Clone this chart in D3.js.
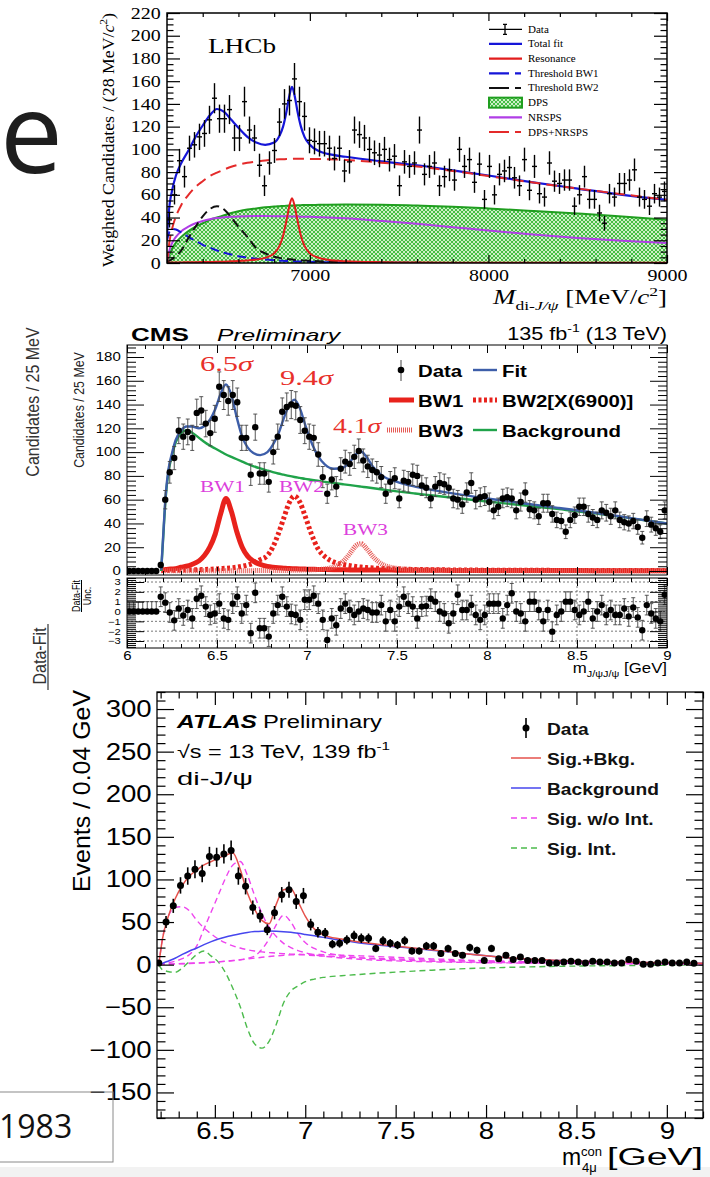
<!DOCTYPE html>
<html>
<head>
<meta charset="utf-8">
<script src="https://cdn.jsdelivr.net/npm/d3@7"></script>
<style>
  html, body { margin: 0; padding: 0; background: #fff; }
  svg { display: block; }
</style>
</head>
<body>
<div id="chart"></div>
<script>
// ---------------- LHCb (28 MeV bins from 6200 MeV) ----------------
var lhcbCounts = [38, 60, 90, 76, 101, 104, 111, 114, 126, 145, 127, 127, 135, 110, 110, 142, 117, 110, 86, 68,
  88, 99, 124, 140, 143, 162, 142, 129, 108, 107, 105, 105, 101, 92, 101, 81, 89, 117, 113, 110,
  100, 97, 95, 100, 91, 94, 68, 89, 85, 88, 117, 78, 85, 88, 68, 76, 82, 73, 100, 85,
  91, 71, 87, 56, 85, 60, 78, 81, 84, 75, 68, 91, 64, 85, 61, 58, 88, 72, 70, 73,
  73, 50, 60, 76, 56, 56, 44, 35, 61, 58, 70, 70, 73, 82, 58, 56, 50, 61, 58, 63];
var lhcbGrid = [6200, 6215, 6230, 6250, 6280, 6320, 6360, 6400, 6440, 6480, 6520, 6560, 6600, 6650, 6700, 6750, 6800, 6830, 6850, 6870,
  6885, 6900, 6915, 6930, 6950, 6970, 7000, 7050, 7100, 7200, 7400, 7600, 7800, 8000, 8250, 8500, 8750, 9000];
var lhcbTotalFit = [25, 52, 65, 77, 88, 99, 111, 121, 130, 135.5, 133, 126, 119, 111, 106, 104, 106, 112, 120, 134,
  147, 155, 147, 134, 120, 111, 104, 98.5, 96, 93.5, 89.5, 86, 81.5, 77, 71, 65.5, 60, 55.5];
var lhcbResonance = [0.3, 0.3, 0.4, 0.4, 0.5, 0.6, 0.7, 0.8, 0.9, 1.0, 1.2, 1.5, 1.8, 2.3, 3.0, 4.5, 8.5, 15, 24, 38,
  50, 57, 50, 38, 24, 15, 8.5, 4.5, 2.8, 1.5, 0.7, 0.4, 0.3, 0.3, 0.2, 0.2, 0.2, 0.2];
var lhcbThresholdBW1 = [20, 28, 30, 29.5, 27, 23, 19.5, 16, 13.5, 11, 9, 7.5, 6, 4.8, 3.8, 3, 2.4, 2.1, 1.9, 1.8,
  1.7, 1.6, 1.5, 1.4, 1.3, 1.2, 1.0, 0.8, 0.6, 0.4, 0.2, 0.1, 0, 0, 0, 0, 0, 0];
var lhcbThresholdBW2 = [1, 2, 3.5, 6, 11, 22, 32, 41, 47.5, 50, 47, 40, 32, 23, 13, 8.5, 5.5, 4.5, 4, 3.6,
  3.3, 3.0, 2.8, 2.6, 2.4, 2.2, 1.9, 1.5, 1.2, 0.8, 0.4, 0.2, 0, 0, 0, 0, 0, 0];
var lhcbDPS = [0, 8, 13, 18, 23, 28, 32, 35, 38, 40, 42, 44, 45.5, 47, 48, 49, 49.7, 50, 50.2, 50.4,
  50.5, 50.6, 50.7, 50.8, 50.9, 51, 51, 51.2, 51.3, 51.4, 51.3, 50.5, 49.5, 48, 45.8, 43.5, 41, 38];
var lhcbNRSPS = [0, 12, 18, 23, 28, 32, 35, 37, 38.5, 39.5, 40.2, 40.7, 41, 41.2, 41.3, 41.3, 41.2, 41.2, 41.1, 41.1,
  41, 41, 41, 40.9, 40.8, 40.7, 40.6, 40.3, 40, 39.3, 37, 34.5, 31.5, 28.5, 25, 22, 19.5, 17.5];
var lhcbDPSNRSPS = [0, 20, 31, 41, 51, 60, 67, 72, 76.5, 79.5, 82.2, 84.7, 86.5, 88.2, 89.3, 90.3, 90.9, 91.2, 91.3, 91.5,
  91.5, 91.6, 91.7, 91.7, 91.7, 91.7, 91.6, 91.5, 91.3, 90.7, 88.3, 85, 81, 76.5, 70.8, 65.5, 60.5, 55.5];
var lhcbXTicks = [7000, 8000, 9000];
var lhcbLegend = ['Data', 'Total fit', 'Resonance', 'Threshold BW1', 'Threshold BW2', 'DPS', 'NRSPS', 'DPS+NRSPS'];

// ---------------- CMS (25 MeV bins from 6.0 GeV) ----------------
var cmsCounts = [0, 0, 0, 0, 0, 0, 0, 5, 60, 83, 95, 118, 113, 117, 112, 133, 135, 124, 116, 128,
  155, 148, 143, 148, 142, 112, 112, 81, 121, 82, 82, 75, 100, 113, 134, 138, 140, 139, 127, 118,
  113, 112, 98, 79, 65, 77, 71, 86, 92, 90, 96, 101, 93, 88, 85, 83, 79, 65, 75, 78,
  61, 76, 75, 81, 80, 72, 70, 61, 71, 74, 73, 70, 61, 60, 56, 66, 74, 60, 62, 63,
  58, 51, 54, 61, 62, 61, 51, 58, 66, 52, 51, 46, 57, 57, 48, 43, 42, 33, 43, 47,
  54, 54, 48, 45, 43, 51, 49, 46, 51, 43, 41, 40, 42, 37, 28, 44, 39, 36, 33, 51];
var cmsPulls = [0, 0, 0, 0, 0, 0, 0, 1.5, 0.9, -0.1, -0.9, 0.3, -0.4, 0.15, -0.7, 1.3, 1.6, 0.5, -0.35, -0.2,
  0.8, -0.7, -0.85, 0.8, 1.5, -0.2, 0.65, -2.2, 1.9, -1.7, -1.7, -2.55, -0.2, 0.65, 1.5, 0.5, -0.25, -0.35, -0.85, 1.2,
  1.2, 1.6, 0.8, -0.85, -2.9, -0.7, -1.4, 0.3, 0.8, 0.15, -0.35, 0, 0.3, 0.15, -0.1, -0.1, 0.65, -1, 0.15, -1,
  0.5, 1.5, 0.8, 0.5, -0.7, 0.5, 0.55, 1.3, 1.0, 0, -0.2, -1.2, -0.2, 1.7, 0.15, 0.15, 0.65, -0.35, -0.85, -0.35,
  0.8, 0.8, 0.8, -0.7, 0.65, 1.85, 0, -0.2, -1.0, 1.0, 1.0, 0.15, -1.0, 0.15, -2.05, -0.35, 0, 1.0, 1.0, 0.15,
  -0.35, 0, 1.0, -0.7, 0, 0.65, -0.35, 0.15, -0.35, -0.35, 0.3, -0.5, 0.4, -0.6, -1.9, 0.65, -0.2, -0.7, -1.0, 1.7];
var cmsGrid = [6.0, 6.18, 6.19, 6.2, 6.215, 6.23, 6.25, 6.27, 6.3, 6.33, 6.36, 6.4, 6.43, 6.46, 6.49, 6.52, 6.55, 6.58, 6.61, 6.64,
  6.67, 6.7, 6.74, 6.78, 6.81, 6.84, 6.87, 6.9, 6.93, 6.96, 6.99, 7.02, 7.06, 7.1, 7.15, 7.2, 7.24, 7.27, 7.3, 7.33,
  7.37, 7.42, 7.5, 7.6, 7.7, 7.8, 8.0, 8.2, 8.4, 8.6, 8.8, 9.0];
var cmsFit = [0, 0, 1, 27, 64, 85, 99, 110, 118, 121.5, 121.5, 120, 122, 127, 136, 149, 157, 148, 129, 113,
  104, 99.5, 97.5, 100, 106, 115, 128, 139, 144, 137, 123, 110, 97, 89.5, 86, 87, 92, 98, 100.5, 96,
  87, 80, 75, 71, 68, 65.5, 61, 57, 53, 49, 44.5, 40];
var cmsBackground = [0, 0, 0, 25, 62, 83, 97, 108, 116, 118.5, 116.5, 112, 108.5, 105.5, 103, 100.5, 98, 96, 94, 92,
  90, 88.3, 86.3, 84.5, 83.2, 82, 81, 80, 79.1, 78.3, 77.5, 76.8, 75.9, 75, 74, 73, 72.2, 71.6, 71, 70.4,
  69.6, 68.6, 67, 65.2, 63.5, 61.8, 58.5, 55.3, 52, 48.5, 44.3, 40];
var cmsBW1 = [null, null, 0.8, 1, 1.2, 1.4, 1.7, 2, 3.1, 4, 5.5, 8.5, 13, 20, 31, 48, 61, 50, 33, 20,
  12.5, 8.5, 5.5, 3.9, 3.2, 2.7, 2.4, 2.1, 1.9, 1.7, 1.6, 1.5, 1.3, 1.2, 1.1, 1.0, 0.9, 0.9, 0.9, 0.8,
  0.8, 0.8, 0.7, 0.6, 0.6, 0.5, 0.5, 0.4, 0.4, 0.3, 0.3, 0.3];
var cmsBW2 = [null, null, 0.4, 0.5, 0.5, 0.6, 0.6, 0.7, 0.8, 0.9, 1.0, 1.1, 1.3, 1.5, 1.7, 2.0, 2.3, 2.7, 3.2, 4.0,
  5.0, 6.5, 9.5, 13, 20, 31, 44, 57, 63, 58, 46, 33, 19, 12, 7.5, 5.5, 4.5, 3.8, 3.3, 2.9,
  2.5, 2.1, 1.7, 1.3, 1.1, 0.9, 0.7, 0.6, 0.5, 0.4, 0.4, 0.3];
var cmsBW3 = [null, null, 0.2, 0.2, 0.2, 0.2, 0.2, 0.2, 0.2, 0.2, 0.2, 0.2, 0.2, 0.2, 0.3, 0.3, 0.3, 0.3, 0.3, 0.3,
  0.3, 0.3, 0.4, 0.4, 0.4, 0.5, 0.5, 0.5, 0.6, 0.7, 0.8, 0.9, 1.2, 1.8, 3.5, 8, 15, 21, 23, 19,
  11.5, 5.5, 2.2, 1.1, 0.7, 0.5, 0.3, 0.3, 0.2, 0.2, 0.2, 0.2];
var cmsXTicks = [6, 6.5, 7, 7.5, 8, 8.5, 9];

// ---------------- ATLAS (0.04 GeV bins) ----------------
var atlasCounts = [2, 50, 69, 93, 104, 112, 107, 127, 126, 130, 134, 104, 92, 67, 57, 41, 61, 82, 88, 74,
  81, 47, 38, 37, 24, 25, 29, 34, 31, 31, 19, 28, 25, 23, 28, 16, 16, 22, 22, 13,
  19, 13, 11, 20, 17, 5, 19, 7, 11, 6, 9, 5, 5, 5, 2, 2, 3, 4, 3, 2,
  4, 3, 3, 2, 2, 6, 4, 0.5, 0.5, 2, 3, 2, 2, 3, 1.5];
var atlasGrid = [6.19, 6.21, 6.24, 6.28, 6.32, 6.36, 6.4, 6.44, 6.48, 6.52, 6.56, 6.6, 6.64, 6.68, 6.72, 6.76, 6.8, 6.84, 6.88, 6.92,
  6.96, 7.0, 7.05, 7.1, 7.2, 7.3, 7.4, 7.5, 7.6, 7.7, 7.8, 7.9, 8.0, 8.1, 8.2, 8.4, 8.6, 8.8, 9.0, 9.2];
var atlasSigBkg = [0, 30, 55, 77, 93, 104, 111, 117, 121, 125, 128.5, 131, 112, 84, 65, 52, 48, 71, 88, 89,
  74, 57, 42, 35, 30, 26.5, 24, 21.8, 19.6, 17.4, 15, 12.6, 10.4, 8.4, 6.8, 4.9, 3.7, 2.8, 2.1, 1.6];
var atlasBkg = [0, 1.5, 4, 7.5, 12, 16, 19.5, 23.5, 27, 30, 32.5, 34.5, 36.3, 37.8, 38.8, 39.3, 39.4, 39.2, 38.7, 37.9,
  36.8, 35.5, 33.8, 32, 28.5, 25.5, 23, 21, 19, 17, 14.8, 12.5, 10.3, 8.3, 6.7, 4.8, 3.6, 2.7, 2, 1.5];
var atlasSigA = [0, 30, 55, 67, 68, 63, 52, 43, 36, 30, 25.5, 22, 19.5, 17.5, 16, 15, 14.2, 13.5, 12.9, 12.4,
  12, 11.4, 10.7, 10.1, 9, 8.1, 7.3, 6.6, 6, 5.4, 4.9, 4.4, 4, 3.6, 3.3, 2.7, 2.2, 1.8, 1.5, 1.2];
var atlasSigB = [0, 1, 2, 4, 7, 12, 22, 42, 62, 82, 102, 117, 121, 105, 81, 60, 44, 33, 25, 20,
  16.5, 14, 11.5, 10, 7.8, 6.3, 5.2, 4.4, 3.8, 3.3, 2.9, 2.6, 2.3, 2.1, 1.9, 1.6, 1.3, 1.1, 1.0, 0.9];
var atlasSigC = [0, 0.5, 0.8, 1, 1.3, 1.6, 2, 2.4, 2.9, 3.4, 4, 4.8, 5.8, 7.5, 10, 18, 30, 47, 58, 50,
  36, 26, 19, 15, 10.5, 8, 6.5, 5.5, 4.7, 4, 3.5, 3.1, 2.7, 2.4, 2.2, 1.8, 1.5, 1.3, 1.1, 1];
var atlasSigD = [0, 0.3, 0.5, 0.7, 1, 1.3, 1.7, 2.1, 2.6, 3.2, 3.9, 4.7, 5.6, 6.6, 7.6, 8.6, 9.5, 10.3, 11, 11.5,
  11.8, 12, 12, 11.8, 11.2, 10.4, 9.5, 8.6, 7.7, 6.8, 6, 5.2, 4.5, 3.9, 3.4, 2.6, 2, 1.5, 1.2, 1];
var atlasSigInt = [0, -6, -8, -9, -4, 4, 12, 16, 10, 3, -10, -28, -49, -75, -93, -98, -90, -70, -45, -31,
  -25, -20, -17, -15, -13, -11.5, -10, -8.8, -7.6, -6.5, -5.5, -4.6, -3.9, -3.3, -2.8, -2, -1.4, -1, -0.7, -0.5];
var atlasXTicks = [6.5, 7, 7.5, 8, 8.5, 9];
var atlasLegend = ['Data', 'Sig.+Bkg.', 'Background', 'Sig. w/o Int.', 'Sig. Int.'];

var SANS = "'Liberation Sans', Arial, Helvetica, sans-serif";
var SERIF = "'Liberation Serif', 'Times New Roman', serif";
var SLIDE = "'Open Sans', 'Noto Sans', sans-serif";

var W = 710, H = 1177;
var svg = d3.select('#chart').append('svg').attr('width', W).attr('height', H);
var defs = svg.append('defs');
svg.append('rect').attr('width', W).attr('height', H).attr('fill', '#fff');

// ---------- helpers ----------
function label(parent, x, y, size, o) {
  o = o || {};
  var tr = 'translate(' + x + ',' + y + ')';
  if (o.rot) tr += ' rotate(' + o.rot + ')';
  if (o.sx) tr += o.rot ? ' scale(1,' + o.sx + ')' : ' scale(' + o.sx + ',1)';
  var t = parent.append('text').attr('transform', tr)
    .attr('font-size', size).attr('font-family', o.family || SANS)
    .attr('font-weight', o.weight || 'normal').attr('font-style', o.style || 'normal')
    .attr('text-anchor', o.anchor || 'start').attr('fill', o.fill || '#000');
  if (o.len) t.attr('textLength', o.len).attr('lengthAdjust', 'spacingAndGlyphs');
  if (o.text) t.text(o.text);
  if (o.segs) rich(t, o.segs, size);
  return t;
}
function rich(t, segs, size) {
  var off = 0;
  segs.forEach(function (s) {
    var target = s.sup ? -0.42 * size : s.sub ? 0.3 * size : 0;
    var ts = t.append('tspan').attr('dy', target - off).text(s.t);
    if (s.sup || s.sub) ts.attr('font-size', size * 0.65);
    if (s.it) ts.attr('font-style', 'italic');
    off = target;
  });
}
function stepTicks(lo, hi, step) {
  var n = Math.round((hi - lo) / step);
  return d3.range(n + 1).map(function (i) { return +(lo + i * step).toFixed(6); });
}
function minorOnly(lo, hi, step, major) {
  return stepTicks(lo, hi, step).filter(function (v) {
    var r = v / major;
    return Math.abs(r - Math.round(r)) > 1e-6;
  });
}
function rootFrame(g, xs, ys, box, o) {
  function ax(gen, tr, vals, len, fmt, pad) {
    var a = g.append('g').attr('transform', tr)
      .call(gen.tickValues(vals).tickSize(-len).tickPadding(pad || 0)
        .tickFormat(fmt || function () { return ''; }));
    a.select('.domain').remove();
    a.selectAll('line').attr('stroke', '#000').attr('stroke-width', o.tickW || 1);
    a.selectAll('text').attr('font-family', o.family).attr('font-size', o.size)
      .attr('fill', '#000').attr('transform', 'scale(' + (o.sx || 1) + ',1)');
    return a;
  }
  var B = 'translate(0,' + box.b + ')', T = 'translate(0,' + box.t + ')';
  var L = 'translate(' + box.l + ',0)', R = 'translate(' + box.r + ',0)';
  ax(d3.axisBottom(xs), B, o.xMin, o.xMinLen);
  ax(d3.axisBottom(xs), B, o.xMaj, o.xMajLen, o.xFmt, o.xPad);
  ax(d3.axisTop(xs), T, o.xMin, o.xMinLen);
  ax(d3.axisTop(xs), T, o.xMaj, o.xMajLen);
  ax(d3.axisLeft(ys), L, o.yMin, o.yMinLen);
  var yl = ax(d3.axisLeft(ys), L, o.yMaj, o.yMajLen, o.yFmt, o.yPad);
  if (o.ySize) yl.selectAll('text').attr('font-size', o.ySize);
  ax(d3.axisRight(ys), R, o.yMin, o.yMinLen);
  ax(d3.axisRight(ys), R, o.yMaj, o.yMajLen);
  g.append('rect').attr('x', box.l).attr('y', box.t)
    .attr('width', box.r - box.l).attr('height', box.b - box.t)
    .attr('fill', 'none').attr('stroke', '#000').attr('stroke-width', o.frameW || 1);
}
function clip(id, box) {
  defs.append('clipPath').attr('id', id).append('rect')
    .attr('x', box.l).attr('y', box.t).attr('width', box.r - box.l).attr('height', box.b - box.t);
  return 'url(#' + id + ')';
}
function curvePath(xs, ys, xv, yv) {
  return d3.line()
    .defined(function (d) { return d[1] != null; })
    .x(function (d) { return xs(d[0]); })
    .y(function (d) { return ys(d[1]); })
    .curve(d3.curveMonotoneX)(d3.zip(xv, yv));
}
function drawCurve(g, xs, ys, xv, yv, color, width, dash) {
  var p = g.append('path').attr('d', curvePath(xs, ys, xv, yv))
    .attr('fill', 'none').attr('stroke', color).attr('stroke-width', width);
  if (dash) p.attr('stroke-dasharray', dash);
  return p;
}
var fmtG = d3.format('~g');

// ---------- slide decorations ----------
label(svg, 0, 173, 112, { family: SLIDE, fill: '#1e1e1e', text: 'e' });
svg.append('rect').attr('x', 0).attr('y', 1167).attr('width', W).attr('height', 10).attr('fill', '#f2f2f2');

// =================== LHCb ===================
var lBox = { l: 167, r: 667, t: 13, b: 263 };
var lx = d3.scaleLinear().domain([6200, 9000]).range([lBox.l, lBox.r]);
var ly = d3.scaleLinear().domain([0, 220]).range([lBox.b, lBox.t]);
var gL = svg.append('g');
var gLc = gL.append('g').attr('clip-path', clip('clipL', lBox));

var pat = defs.append('pattern').attr('id', 'dpsHatch').attr('patternUnits', 'userSpaceOnUse')
  .attr('width', 4).attr('height', 4);
pat.append('rect').attr('width', 4).attr('height', 4).attr('fill', '#45bd45');
pat.append('path').attr('d', 'M0,0L4,4M4,0L0,4').attr('stroke', '#dcf6d6').attr('stroke-width', 0.9);

gLc.append('path')
  .attr('d', d3.area().x(function (d) { return lx(d[0]); }).y0(ly(0))
    .y1(function (d) { return ly(d[1]); }).curve(d3.curveMonotoneX)(d3.zip(lhcbGrid, lhcbDPS)))
  .attr('fill', 'url(#dpsHatch)');
drawCurve(gLc, lx, ly, lhcbGrid, lhcbDPS, '#1f9e1f', 2);
drawCurve(gLc, lx, ly, lhcbGrid, lhcbNRSPS, '#b03ee6', 2);
drawCurve(gLc, lx, ly, lhcbGrid, lhcbThresholdBW1, '#1515d8', 2, '9,5');
drawCurve(gLc, lx, ly, lhcbGrid, lhcbThresholdBW2, '#111', 2, '9,5');
drawCurve(gLc, lx, ly, lhcbGrid, lhcbResonance, '#e21d1d', 2);
drawCurve(gLc, lx, ly, lhcbGrid, lhcbTotalFit, '#1515d8', 2.2);
drawCurve(gLc, lx, ly, lhcbGrid, lhcbDPSNRSPS, '#e42a2a', 2, '11,6');

var lhcbBins = lhcbCounts.map(function (v, i) { return { m: 6200 + 28 * (i + 0.5), v: v }; });
var lPts = gLc.selectAll('g.pt').data(lhcbBins).enter().append('g').attr('class', 'pt')
  .attr('stroke', '#000').attr('stroke-width', 1.4);
lPts.append('line')
  .attr('x1', function (d) { return lx(d.m); }).attr('x2', function (d) { return lx(d.m); })
  .attr('y1', function (d) { return ly(d.v - Math.sqrt(d.v) * 1.1); })
  .attr('y2', function (d) { return ly(d.v + Math.sqrt(d.v) * 1.1); });
lPts.append('line')
  .attr('x1', function (d) { return lx(d.m - 14); }).attr('x2', function (d) { return lx(d.m + 14); })
  .attr('y1', function (d) { return ly(d.v); }).attr('y2', function (d) { return ly(d.v); });

rootFrame(gL, lx, ly, lBox, {
  family: SERIF, size: 16, sx: 1.25, frameW: 1.5, tickW: 1.2,
  xMaj: lhcbXTicks, xMin: minorOnly(6200, 9000, 200, 1000), xMajLen: 8, xMinLen: 4, xFmt: fmtG, xPad: 7,
  yMaj: stepTicks(0, 220, 20), yMin: minorOnly(0, 220, 5, 20), yMajLen: 13, yMinLen: 6.5, yFmt: fmtG, yPad: 5
});

label(svg, 208, 53, 20, { family: SERIF, text: 'LHCb', len: 68 });
label(svg, 114, 140, 17.5, { family: SERIF, rot: -90, anchor: 'middle', len: 254,
  segs: [{ t: 'Weighted Candidates / (28 MeV/' }, { t: 'c', it: true }, { t: '2', sup: true }, { t: ')' }] });
label(svg, 667, 304, 20, { family: SERIF, anchor: 'end', sx: 1.35,
  segs: [{ t: 'M', it: true }, { t: 'di-', sub: true }, { t: 'J/ψ', sub: true, it: true },
    { t: ' [MeV/' }, { t: 'c', it: true }, { t: '2', sup: true }, { t: ']' }] });

// LHCb legend
var lLegY = d3.scalePoint().domain(lhcbLegend).range([29.3, 132]);
var lLeg = gL.append('g');
lhcbLegend.forEach(function (name) {
  var y = lLegY(name), x0 = 489, x1 = 522;
  if (name === 'Data') {
    lLeg.append('path').attr('d', 'M' + x0 + ',' + y + 'H' + x1 + 'M505,' + (y - 5) + 'V' + (y + 5) +
      'M503,' + (y - 5) + 'H507M503,' + (y + 5) + 'H507').attr('stroke', '#000').attr('stroke-width', 1.3).attr('fill', 'none');
  } else if (name === 'DPS') {
    lLeg.append('rect').attr('x', x0).attr('y', y - 5).attr('width', x1 - x0).attr('height', 10)
      .attr('fill', 'url(#dpsHatch)').attr('stroke', '#1f9e1f').attr('stroke-width', 2);
  } else {
    var sty = {
      'Total fit': ['#1515d8', null], 'Resonance': ['#e21d1d', null], 'Threshold BW1': ['#1515d8', '20,6,6,6'],
      'Threshold BW2': ['#111', '20,6,6,6'], 'NRSPS': ['#b03ee6', null], 'DPS+NRSPS': ['#e42a2a', '20,6,6,6']
    }[name];
    var ln = lLeg.append('line').attr('x1', x0).attr('x2', x1).attr('y1', y).attr('y2', y)
      .attr('stroke', sty[0]).attr('stroke-width', 2.2);
    if (sty[1]) ln.attr('stroke-dasharray', sty[1]);
  }
  label(lLeg, 528, y + 3.5, 10.5, { family: SERIF, sx: 1.05, text: name });
});

// =================== CMS ===================
var cBox = { l: 127, r: 667, t: 345, b: 575 };
var rBox = { l: 127, r: 667, t: 578, b: 648 };
var cx = d3.scaleLinear().domain([6, 9]).range([cBox.l, cBox.r]);
var cy = d3.scaleLinear().domain([0, 180]).range([571, 357]);
var cr = d3.scaleLinear().domain([-3, 3]).range([641, 582]);
var gC = svg.append('g');
var gCc = gC.append('g').attr('clip-path', clip('clipC', cBox));

drawCurve(gCc, cx, cy, cmsGrid, cmsBW1, '#e8221c', 5);
drawCurve(gCc, cx, cy, cmsGrid, cmsBW2, '#e8221c', 5, '3,2.5');
drawCurve(gCc, cx, cy, cmsGrid, cmsBW3, '#e65a55', 5, '1,1');
drawCurve(gCc, cx, cy, cmsGrid.slice(2), cmsBackground.slice(2), '#20a34a', 2.4);
drawCurve(gCc, cx, cy, cmsGrid.slice(2), cmsFit.slice(2), '#3d5ea9', 2.4);

var cmsBins = cmsCounts.map(function (v, i) { return { m: 6 + 0.025 * (i + 0.5), v: v, p: cmsPulls[i] }; });
var cPts = gCc.selectAll('g.pt').data(cmsBins).enter().append('g').attr('class', 'pt');
cPts.filter(function (d) { return d.v > 0; }).append('path')
  .attr('d', function (d) {
    var x = cx(d.m), e = Math.sqrt(d.v), y0 = cy(d.v - e), y1 = cy(d.v + e);
    return 'M' + x + ',' + y0 + 'V' + y1 + 'M' + (x - 2) + ',' + y0 + 'H' + (x + 2) + 'M' + (x - 2) + ',' + y1 + 'H' + (x + 2);
  })
  .attr('stroke', '#444').attr('stroke-width', 0.9).attr('fill', 'none');
cPts.append('circle').attr('cx', function (d) { return cx(d.m); }).attr('cy', function (d) { return cy(d.v); })
  .attr('r', 3.2).attr('fill', '#000');

rootFrame(gC, cx, cy, cBox, {
  family: SANS, size: 12, sx: 1.25,
  xMaj: cmsXTicks, xMin: minorOnly(6, 9, 0.1, 0.5), xMajLen: 8, xMinLen: 4,
  yMaj: stepTicks(0, 180, 20), yMin: minorOnly(0, 188, 4, 20), yMajLen: 17, yMinLen: 9, yFmt: fmtG, yPad: 5
});

// residual panel
var gR = svg.append('g');
var gRc = gR.append('g').attr('clip-path', clip('clipR', rBox));
stepTicks(-3, 3, 1).forEach(function (v) {
  gRc.append('line').attr('x1', rBox.l).attr('x2', rBox.r).attr('y1', cr(v)).attr('y2', cr(v))
    .attr('stroke', '#555').attr('stroke-width', 0.8).attr('stroke-dasharray', '2,2');
});
[6.5, 7, 7.5, 8, 8.5].forEach(function (m) {
  gRc.append('line').attr('x1', cx(m)).attr('x2', cx(m)).attr('y1', rBox.t).attr('y2', rBox.b)
    .attr('stroke', '#555').attr('stroke-width', 0.8).attr('stroke-dasharray', '2,2');
});
var rPts = gRc.selectAll('g.rp').data(cmsBins).enter().append('g').attr('class', 'rp');
rPts.append('path')
  .attr('d', function (d) {
    var x = cx(d.m), y0 = cr(d.v > 0 ? d.p - 1 : 0), y1 = cr(d.p + 1);
    return 'M' + x + ',' + y0 + 'V' + y1 + 'M' + (x - 2) + ',' + y1 + 'H' + (x + 2) +
      (d.v > 0 ? 'M' + (x - 2) + ',' + y0 + 'H' + (x + 2) : '');
  })
  .attr('stroke', '#444').attr('stroke-width', 0.9).attr('fill', 'none');
rPts.append('circle').attr('cx', function (d) { return cx(d.m); }).attr('cy', function (d) { return cr(d.p); })
  .attr('r', 3.2).attr('fill', '#000');

rootFrame(gR, cx, cr, rBox, {
  family: SANS, size: 12, ySize: 9, sx: 1.25,
  xMaj: cmsXTicks, xMin: minorOnly(6, 9, 0.1, 0.5), xMajLen: 8, xMinLen: 4, xFmt: fmtG, xPad: 3,
  yMaj: stepTicks(-3, 3, 1), yMin: minorOnly(-3.6, 3.4, 0.2, 1), yMajLen: 17, yMinLen: 9, yFmt: d3.format('d'), yPad: 5
});

// CMS labels
label(svg, 131, 341, 19, { weight: 'bold', text: 'CMS', len: 58 });
label(svg, 217, 341, 17, { style: 'italic', text: 'Preliminary', len: 123 });
label(svg, 667, 340, 18, { anchor: 'end', sx: 1.2, segs: [{ t: '135 fb' }, { t: '-1', sup: true }, { t: ' (13 TeV)' }] });
label(svg, 84, 410, 12.4, { rot: -90, anchor: 'middle', sx: 1.2, fill: '#222', text: 'Candidates / 25 MeV' });
label(svg, 39, 402, 16, { rot: -90, anchor: 'middle', sx: 1.2, fill: '#333', text: 'Candidates / 25 MeV' });
label(svg, 80, 596, 9, { rot: -90, anchor: 'middle', sx: 1.2, text: 'Data-Fit' });
label(svg, 91, 596, 9, { rot: -90, anchor: 'middle', sx: 1.2, text: 'Unc.' });
svg.append('line').attr('x1', 81.5).attr('x2', 81.5).attr('y1', 580).attr('y2', 612).attr('stroke', '#000').attr('stroke-width', 1);
label(svg, 46, 656, 16, { rot: -90, anchor: 'middle', sx: 1.2, fill: '#333', text: 'Data-Fit' });
svg.append('line').attr('x1', 48).attr('x2', 48).attr('y1', 624).attr('y2', 690).attr('stroke', '#333').attr('stroke-width', 1.2);
label(svg, 667, 673, 14, { anchor: 'end', sx: 1.2, segs: [{ t: 'm' }, { t: 'J/ψJ/ψ', sub: true }, { t: ' [GeV]' }] });

label(svg, 200, 371, 21, { family: SERIF, fill: '#e8302a', len: 53, segs: [{ t: '6.5' }, { t: 'σ', it: true }] });
label(svg, 280, 385, 21, { family: SERIF, fill: '#e8302a', len: 53, segs: [{ t: '9.4' }, { t: 'σ', it: true }] });
label(svg, 333, 433, 21, { family: SERIF, fill: '#e8302a', len: 48, segs: [{ t: '4.1' }, { t: 'σ', it: true }] });
label(svg, 200, 492, 17, { family: SERIF, fill: '#dc3fdc', sx: 1.25, text: 'BW1' });
label(svg, 279, 492, 17, { family: SERIF, fill: '#dc3fdc', sx: 1.25, text: 'BW2' });
label(svg, 343, 535, 17, { family: SERIF, fill: '#dc3fdc', sx: 1.25, text: 'BW3' });

// CMS legend
var cLeg = gC.append('g');
cLeg.append('line').attr('x1', 401).attr('x2', 401).attr('y1', 360).attr('y2', 381).attr('stroke', '#444');
cLeg.append('circle').attr('cx', 401).attr('cy', 370).attr('r', 3.3).attr('fill', '#000');
cLeg.append('line').attr('x1', 473).attr('x2', 497).attr('y1', 370).attr('y2', 370).attr('stroke', '#3d5ea9').attr('stroke-width', 2.4);
cLeg.append('line').attr('x1', 389).attr('x2', 414).attr('y1', 400).attr('y2', 400).attr('stroke', '#e8221c').attr('stroke-width', 5);
cLeg.append('line').attr('x1', 473).attr('x2', 497).attr('y1', 400).attr('y2', 400).attr('stroke', '#e8221c').attr('stroke-width', 5).attr('stroke-dasharray', '3,2.5');
cLeg.append('line').attr('x1', 387).attr('x2', 413).attr('y1', 430).attr('y2', 430).attr('stroke', '#e65a55').attr('stroke-width', 5).attr('stroke-dasharray', '1,1');
cLeg.append('line').attr('x1', 473).attr('x2', 497).attr('y1', 430).attr('y2', 430).attr('stroke', '#20a34a').attr('stroke-width', 2.4);
[['Data', 418, 377], ['Fit', 502, 377], ['BW1', 418, 406.5], ['BW2[X(6900)]', 502, 406.5], ['BW3', 418, 436.5], ['Background', 502, 436.5]]
  .forEach(function (d) { label(cLeg, d[1], d[2], 17, { weight: 'bold', sx: 1.2, text: d[0] }); });

// =================== ATLAS ===================
var aBox = { l: 157, r: 703, t: 692, b: 1118 };
var ax = d3.scaleLinear().domain([6.18, 9.2]).range([aBox.l, aBox.r]);
var ay = d3.scaleLinear().domain([-180, 320]).range([aBox.b, aBox.t]);
var gA = svg.append('g');
var gAc = gA.append('g').attr('clip-path', clip('clipA', aBox));

drawCurve(gAc, ax, ay, atlasGrid, atlasSigInt, '#4cbb4c', 1.4, '6,4');
[atlasSigD, atlasSigA, atlasSigB, atlasSigC].forEach(function (s) {
  drawCurve(gAc, ax, ay, atlasGrid, s, '#ee44ee', 1.4, '6,4');
});
drawCurve(gAc, ax, ay, atlasGrid, atlasBkg, '#4646ee', 1.5);
drawCurve(gAc, ax, ay, atlasGrid, atlasSigBkg, '#e5524c', 1.5);

var atlasBins = atlasCounts.map(function (v, i) { return { m: 6.19 + 0.04 * i, v: v }; });
var aPts = gAc.selectAll('g.pt').data(atlasBins).enter().append('g').attr('class', 'pt');
aPts.append('line')
  .attr('x1', function (d) { return ax(d.m); }).attr('x2', function (d) { return ax(d.m); })
  .attr('y1', function (d) { return ay(d.v - Math.sqrt(d.v)); })
  .attr('y2', function (d) { return ay(d.v + Math.sqrt(d.v)); })
  .attr('stroke', '#000').attr('stroke-width', 1.6);
aPts.append('circle').attr('cx', function (d) { return ax(d.m); }).attr('cy', function (d) { return ay(d.v); })
  .attr('r', 3.5).attr('fill', '#000');

rootFrame(gA, ax, ay, aBox, {
  family: SANS, size: 23, sx: 1.2, frameW: 1.3, tickW: 1.2,
  xMaj: atlasXTicks, xMin: minorOnly(6.2, 9.2, 0.1, 0.5), xMajLen: 13, xMinLen: 6.5, xFmt: fmtG, xPad: 5,
  yMaj: stepTicks(-150, 300, 50), yMin: minorOnly(-180, 320, 10, 50), yMajLen: 17, yMinLen: 8.5, yFmt: fmtG, yPad: 4.4
});

label(svg, 90, 791, 24, { rot: -90, anchor: 'middle', len: 202, text: 'Events / 0.04 GeV' });
label(svg, 177, 728, 18, { weight: 'bold', style: 'italic', text: 'ATLAS', len: 80 });
label(svg, 263, 728, 18, { text: 'Preliminary', len: 119 });
label(svg, 177, 758, 18, { len: 213, segs: [{ t: '√s = 13 TeV, 139 fb' }, { t: '-1', sup: true }] });
label(svg, 177, 785, 19, { text: 'di-J/ψ', len: 76 });
label(svg, 562, 1165, 23, { text: 'm' });
label(svg, 581, 1156, 13, { text: 'con' });
label(svg, 582, 1172, 13, { text: '4μ' });
label(svg, 703, 1165, 23, { anchor: 'end', text: '[GeV]', len: 96 });

// ATLAS legend
var aLegY = d3.scalePoint().domain(atlasLegend).range([728, 848]);
var aLeg = gA.append('g');
atlasLegend.forEach(function (name) {
  var y = aLegY(name);
  if (name === 'Data') {
    aLeg.append('line').attr('x1', 526).attr('x2', 526).attr('y1', y - 10).attr('y2', y + 10).attr('stroke', '#000').attr('stroke-width', 1.6);
    aLeg.append('circle').attr('cx', 526).attr('cy', y).attr('r', 3.5).attr('fill', '#000');
  } else {
    var sty = { 'Sig.+Bkg.': ['#e5524c', null], 'Background': ['#4646ee', null],
      'Sig. w/o Int.': ['#ee44ee', '6,4'], 'Sig. Int.': ['#4cbb4c', '6,4'] }[name];
    var ln = aLeg.append('line').attr('x1', 511).attr('x2', 541).attr('y1', y).attr('y2', y)
      .attr('stroke', sty[0]).attr('stroke-width', 1.5);
    if (sty[1]) ln.attr('stroke-dasharray', sty[1]);
  }
  label(aLeg, 547, y + 6.5, 17, { weight: 'bold', sx: 1.13, fill: '#111', text: name });
});

// slide box
svg.append('rect').attr('x', -1).attr('y', 1092).attr('width', 114).attr('height', 70)
  .attr('fill', 'none').attr('stroke', '#8a8a8a').attr('stroke-width', 1);
label(svg, -1, 1138, 32, { family: SLIDE, fill: '#111', text: '1983' });
</script>
</body>
</html>
